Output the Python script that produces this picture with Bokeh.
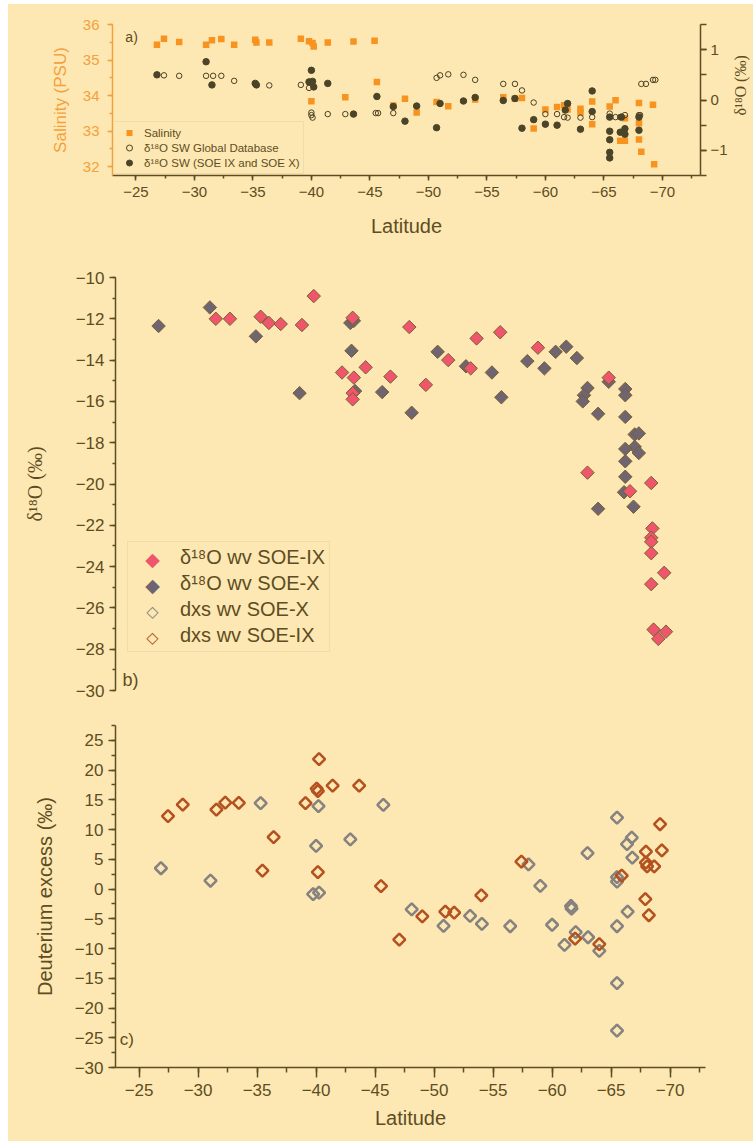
import numpy as np
from bokeh.plotting import figure
from bokeh.models import (Range1d, LinearAxis, SingleIntervalTicker, Legend, LegendItem,
                          Label, ColumnDataSource)
from bokeh.layouts import column, row
from bokeh.embed import file_html
from bokeh.resources import INLINE

# ---------------- data ----------------
# Panel a: salinity (PSU)
sal_lat = [-26.8, -27.4, -28.7, -31.0, -31.5, -32.3, -33.4, -35.2, -35.3, -36.4, -39.1, -39.8,
           -40.1, -40.2, -40.0, -41.4, -43.6, -45.4, -45.6, -42.9, -47.0, -48.0, -49.0, -50.7,
           -51.7, -54.0, -56.4, -57.4, -58.0, -59.0, -60.0, -61.0, -61.6, -61.9, -63.0, -63.0,
           -64.0, -64.0, -65.5, -66.0, -66.4, -66.8, -66.8, -68.0, -68.0, -68.0, -68.2, -69.2, -69.3]
sal_val = [35.43, 35.60, 35.51, 35.43, 35.56, 35.59, 35.43, 35.57, 35.49, 35.49, 35.60, 35.53,
           35.48, 35.38, 33.84, 35.49, 35.52, 35.54, 34.38, 33.95, 33.72, 33.91, 33.52, 33.82,
           33.70, 33.89, 33.95, 33.91, 33.93, 33.07, 33.61, 33.68, 33.73, 33.61, 33.63, 33.52,
           33.83, 33.19, 33.69, 33.87, 32.73, 32.73, 33.36, 33.79, 33.22, 32.76, 32.42, 33.74, 32.07]

# Panel a: d18O seawater, global database
gdb_lat = [-27.4, -28.7, -31.0, -31.6, -32.3, -33.4, -36.4, -39.1, -39.8, -40.0, -40.0, -40.1,
           -41.4, -42.9, -45.5, -45.7, -47.0, -50.7, -51.0, -51.7, -53.0, -54.0, -56.4, -57.4,
           -58.0, -59.0, -60.0, -61.0, -61.6, -61.9, -63.0, -64.0, -65.5, -66.0, -66.4, -66.8,
           -68.0, -68.1, -68.2, -68.6, -69.2, -69.4]
gdb_d18o = [0.49, 0.48, 0.48, 0.48, 0.48, 0.38, 0.29, 0.30, 0.24, -0.25, -0.30, -0.35,
            -0.28, -0.28, -0.26, -0.26, -0.26, 0.44, 0.49, 0.51, 0.50, 0.40, 0.32, 0.32,
            0.19, -0.05, -0.28, -0.28, -0.34, -0.35, -0.35, -0.34, -0.27, -0.34, -0.34, -0.30,
            -0.30, -0.30, 0.32, 0.32, 0.40, 0.40]

# Panel a: d18O seawater, SOE IX and SOE X
soe_lat = [-26.8, -31.0, -31.5, -35.2, -35.3, -39.8, -40.0, -40.1, -40.2, -41.4, -43.6, -45.6,
           -47.0, -48.0, -49.0, -50.7, -51.0, -53.0, -54.0, -56.4, -57.4, -58.0, -59.0, -60.0,
           -61.0, -61.7, -61.9, -63.0, -64.0, -64.0, -65.5, -65.5, -65.5, -65.5, -65.5, -66.4,
           -66.5, -66.8, -66.8, -68.0, -68.0]
soe_d18o = [0.50, 0.76, 0.30, 0.33, 0.30, 0.36, 0.59, 0.37, 0.26, 0.33, -0.28, 0.07,
            -0.13, -0.42, -0.12, -0.55, -0.07, -0.02, 0.05, -0.01, 0.03, -0.56, -0.39, -0.48,
            -0.50, -0.20, -0.07, -0.58, 0.18, -0.23, -0.34, -0.62, -0.79, -1.04, -1.15, -0.64,
            -0.34, -0.57, -0.68, -0.60, -0.34]

# Panel b: d18O water vapour
wv9_lat = [-31.5, -32.7, -35.3, -36.0, -37.0, -38.8, -39.8, -43.1, -42.2, -43.2, -43.1, -43.1,
           -44.2, -46.3, -47.9, -49.3, -51.2, -53.1, -53.6, -55.6, -58.8, -64.8, -63.0, -66.6,
           -68.4, -68.5, -68.4, -68.4, -68.4, -69.5, -68.4, -68.6, -69.65, -69.0]
wv9_d18o = [-12.0, -12.0, -11.9, -12.2, -12.25, -12.3, -10.9, -11.95, -14.6, -14.85, -15.6, -15.9,
            -14.35, -14.8, -12.4, -15.2, -14.0, -14.4, -12.95, -12.65, -13.4, -14.85, -19.45, -20.35,
            -19.95, -22.15, -22.6, -22.8, -23.35, -24.3, -24.85, -27.05, -27.15, -27.5]

wv10_lat = [-26.65, -31.0, -34.9, -38.6, -42.9, -43.2, -43.0, -43.3, -45.6, -48.1, -50.3, -52.7,
            -54.9, -55.7, -57.9, -59.35, -60.3, -61.2, -62.1, -63.0, -62.7, -62.6, -63.9, -64.8,
            -66.2, -66.2, -66.2, -67.0, -67.35, -67.0, -67.35, -66.2, -66.2, -66.2, -66.1, -63.9, -66.9]
wv10_d18o = [-12.35, -11.45, -12.85, -15.6, -12.2, -12.1, -13.55, -15.5, -15.55, -16.55, -13.6, -14.3,
             -14.6, -15.8, -14.05, -14.4, -13.6, -13.35, -13.9, -15.35, -15.7, -16.0, -16.6, -15.05,
             -15.4, -15.7, -16.75, -17.6, -17.55, -18.2, -18.5, -18.3, -18.9, -19.65, -20.4, -21.2, -21.1]

# Panel c: deuterium excess of water vapour
dxs10_lat = [-26.85, -31.05, -35.3, -40.2, -40.0, -39.75, -40.25, -42.9, -45.7, -65.5, -66.75,
             -66.35, -66.8, -63.0, -58.0, -59.0, -65.5, -65.5, -66.4, -48.1, -53.05, -61.6, -61.65,
             -50.8, -54.05, -56.45, -60.0, -61.05, -62.0, -63.05, -64.0, -65.5, -65.5, -65.5]
dxs10_val = [3.5, 1.4, 14.45, 13.95, 7.25, -0.85, -0.6, 8.35, 14.15, 12.0, 8.65,
             7.55, 5.3, 6.05, 4.15, 0.55, 2.0, 1.25, -3.8, -3.4, -4.5, -2.85, -3.3,
             -6.2, -5.85, -6.25, -6.0, -9.4, -7.25, -8.1, -10.4, -6.25, -15.8, -23.8]

dxs9_lat = [-27.45, -28.7, -31.55, -32.3, -33.45, -35.45, -36.4, -39.1, -40.25, -40.05, -40.15,
            -40.15, -41.4, -43.65, -45.5, -69.15, -69.3, -67.95, -67.95, -68.05, -68.65, -65.9,
            -57.4, -54.0, -49.0, -50.95, -51.7, -47.05, -61.95, -64.0, -67.9, -68.2]
dxs9_val = [12.25, 14.2, 13.35, 14.55, 14.5, 3.1, 8.75, 14.45, 21.85, 16.9, 16.45,
            2.85, 17.4, 17.4, 0.5, 10.9, 6.5, 6.3, 4.45, 3.8, 3.8, 2.25,
            4.6, -1.05, -4.6, -3.8, -3.95, -8.5, -8.35, -9.25, -1.7, -4.4]

# ---------------- style ----------------
BG = "#FDE8B3"
DARK = "#5E4D22"
ORANGE = "#F7931E"
ORANGE_AX = "#F5A03C"
PINK = "#F0566B"
GRAYF = "#6E6570"
DGRAY = "#86827F"
RUST = "#B4511F"
EDGE = "#7A5F33"
FONT = "Liberation Sans"
SERIF = "Liberation Serif"
W = 745


def style_axis(ax, color=DARK, tick_size="16px", label_size="20px", label_font=FONT,
               tick_out=6, minor_out=3, label_standoff=5, axis_standoff=10):
    ax.axis_line_color = color
    ax.axis_line_width = 1.5
    ax.major_tick_line_color = color
    ax.minor_tick_line_color = color
    ax.major_tick_line_width = 1.5
    ax.minor_tick_line_width = 1.5
    ax.major_tick_in = 0
    ax.minor_tick_in = 0
    ax.major_tick_out = tick_out
    ax.minor_tick_out = minor_out
    ax.major_label_text_color = color
    ax.major_label_text_font = FONT
    ax.major_label_text_font_size = tick_size
    ax.major_label_standoff = label_standoff
    ax.axis_label_text_color = color
    ax.axis_label_text_font = label_font
    ax.axis_label_text_font_size = label_size
    ax.axis_label_text_font_style = "normal"
    ax.axis_label_standoff = axis_standoff


def base_fig(width, height, xr, yr, left, right, top, bottom):
    p = figure(width=width, height=height, x_range=xr, y_range=yr, output_backend="svg",
               toolbar_location=None, min_border_left=left, min_border_right=right,
               min_border_top=top, min_border_bottom=bottom, background_fill_color=BG,
               border_fill_color=BG, outline_line_color=None)
    p.grid.visible = False
    return p


# ---------------- panel a ----------------
SIDE_W = 22
pa = base_fig(W - SIDE_W, 237, Range1d(-23, -73.26), Range1d(31.75, 36), 104, 31, 20, 66)
pa.extra_y_ranges = {"d18o": Range1d(-1.5, 1.5)}

pa.xaxis.ticker = SingleIntervalTicker(interval=5, num_minor_ticks=2)
pa.xaxis.axis_label = "Latitude"
style_axis(pa.xaxis[0], tick_size="15px", tick_out=5, minor_out=3, label_standoff=6, axis_standoff=15)

pa.yaxis.ticker = SingleIntervalTicker(interval=1, num_minor_ticks=2)
pa.yaxis.axis_label = "Salinity (PSU)"
style_axis(pa.yaxis[0], color=ORANGE_AX, tick_size="15px", label_size="17px",
           tick_out=5, minor_out=3, label_standoff=8, axis_standoff=10)

ax_r = LinearAxis(y_range_name="d18o",
                  ticker=SingleIntervalTicker(interval=1, num_minor_ticks=2))
style_axis(ax_r, tick_size="15px", tick_out=6, minor_out=6, label_standoff=4)
pa.add_layout(ax_r, "right")

r_sal = pa.scatter(sal_lat, sal_val, marker="square", size=6.5, fill_color=ORANGE,
                   line_color=None)
r_gdb = pa.scatter(gdb_lat, gdb_d18o, y_range_name="d18o", marker="circle", size=5.5,
                   fill_color=None, line_color="#4B4222", line_width=1)
r_soe = pa.scatter(soe_lat, soe_d18o, y_range_name="d18o", marker="circle", size=6.5,
                   fill_color="#4B4426", line_color="#4B4426")

leg_a = Legend(items=[LegendItem(label="Salinity", renderers=[r_sal]),
                      LegendItem(label="δ¹⁸O SW Global Database", renderers=[r_gdb]),
                      LegendItem(label="δ¹⁸O SW (SOE IX and SOE X)", renderers=[r_soe])],
               location="bottom_left", margin=1, padding=3, spacing=0,
               glyph_width=24, glyph_height=15, label_height=15, label_standoff=3,
               label_text_font=FONT, label_text_font_size="11.5px", label_text_color=DARK,
               background_fill_color=BG, background_fill_alpha=1.0,
               border_line_color="#E3D09E", border_line_width=1.5)
pa.add_layout(leg_a)
pa.add_layout(Label(x=-24.1, y=35.66, text="a)", text_font=FONT, text_font_size="14px",
                    text_color=DARK, text_baseline="middle", text_align="left"))

# strip to the right of panel a that carries the right-axis title (reads upwards)
pside = figure(width=SIDE_W, height=237, x_range=Range1d(0, 1), y_range=Range1d(0, 1),
               x_axis_type=None, y_axis_type=None, output_backend="svg", toolbar_location=None,
               min_border=0, background_fill_color=BG, border_fill_color=BG,
               outline_line_color=None)
pside.grid.visible = False
pside.add_layout(Label(x=0.41, y=0.597, text="δ¹⁸O (‰)", angle=np.pi / 2, text_font=SERIF,
                       text_font_size="16px", text_color=DARK, text_align="center",
                       text_baseline="middle"))

# ---------------- panel b ----------------
YB = Range1d(-30, -10)
XB = Range1d(-23, -73)
pb = base_fig(W, 464, XB, YB, 107, 48, 36, 15)
pb.xaxis.visible = False
pb.yaxis.ticker = SingleIntervalTicker(interval=2, num_minor_ticks=2)
pb.yaxis.axis_label = "δ¹⁸O (‰)"
style_axis(pb.yaxis[0], tick_size="17px", label_size="20px", label_font=SERIF,
           tick_out=6, minor_out=3, label_standoff=5, axis_standoff=27)

r_wv10 = pb.scatter(wv10_lat, wv10_d18o, marker="square", angle=np.pi / 4, size=9.5,
                    fill_color=GRAYF, line_color=EDGE, line_width=1)
r_wv9 = pb.scatter(wv9_lat, wv9_d18o, marker="square", angle=np.pi / 4, size=9.5,
                   fill_color=PINK, line_color=EDGE, line_width=1)
# legend-only placeholder renderer (its key symbols are drawn as diamond characters)
nodata = ColumnDataSource(data=dict(x=[np.nan], y=[np.nan]))
d_leg = pb.scatter("x", "y", source=nodata, marker="square", size=1,
                   fill_alpha=0, line_alpha=0)

LEG_X, LEG_Y, PAD, GW, GH, SP = 12, 38, 4, 42, 23, 3
leg_labels = ["δ¹⁸O wv SOE-IX", "δ¹⁸O wv SOE-X", "dxs wv SOE-X", "dxs wv SOE-IX"]
leg_b = Legend(items=[LegendItem(label=t, renderers=[d_leg]) for t in leg_labels],
               location=(LEG_X, LEG_Y), margin=0, padding=PAD, spacing=SP,
               glyph_width=GW, glyph_height=GH, label_height=GH, label_standoff=6,
               label_text_font=FONT, label_text_font_size="20px", label_text_color=DARK,
               background_fill_alpha=0.0,
               border_line_color="#E3D09E", border_line_width=1.5)
pb.add_layout(leg_b)
# legend key symbols, positioned on the legend rows (pixel geometry -> data units)
FRAME_W, FRAME_H = W - 107 - 48, 464 - 36 - 15
px_x = (XB.start - XB.end) / FRAME_W
px_y = (YB.end - YB.start) / FRAME_H
leg_sym = [("◆", PINK, "19px", "normal"), ("◆", GRAYF, "19px", "normal"),
           ("◇", DGRAY, "16px", "bold"), ("◇", RUST, "16px", "bold")]
top = LEG_Y + 2 * PAD + 4 * GH + 3 * SP
for i, (sym, col, fs, st) in enumerate(leg_sym):
    sy = top - PAD - GH / 2 - i * (GH + SP)
    pb.add_layout(Label(x=XB.start - (LEG_X + PAD + GW / 2) * px_x, y=YB.start + sy * px_y,
                        text=sym, text_font="DejaVu Sans", text_font_size=fs,
                        text_font_style=st, text_color=col,
                        text_align="center", text_baseline="middle"))
pb.add_layout(Label(x=-23.6, y=-29.5, text="b)", text_font=FONT, text_font_size="18px",
                    text_color=DARK, text_baseline="middle", text_align="left"))

# ---------------- panel c ----------------
pc = base_fig(W, 436, Range1d(-23, -73), Range1d(-30, 27.5), 107, 48, 20, 74)
pc.xaxis.ticker = SingleIntervalTicker(interval=5, num_minor_ticks=2)
pc.xaxis.axis_label = "Latitude"
style_axis(pc.xaxis[0], tick_size="17px", tick_out=10, minor_out=5, label_standoff=6,
           axis_standoff=8)
pc.yaxis.ticker = SingleIntervalTicker(interval=5, num_minor_ticks=2)
pc.yaxis.axis_label = "Deuterium excess (‰)"
style_axis(pc.yaxis[0], tick_size="17px", label_size="20px", tick_out=7, minor_out=4,
           label_standoff=5, axis_standoff=16)

pc.scatter(dxs10_lat, dxs10_val, marker="square", angle=np.pi / 4, size=8.5,
           fill_color=None, line_color=DGRAY, line_width=2.5)
pc.scatter(dxs9_lat, dxs9_val, marker="square", angle=np.pi / 4, size=8.5,
           fill_color=None, line_color=RUST, line_width=2.5)
pc.add_layout(Label(x=-23.35, y=-25.3, text="c)", text_font=FONT, text_font_size="17px",
                    text_color=DARK, text_baseline="middle", text_align="left"))

top_row = row(pa, pside, spacing=0, styles={"background-color": BG})
layout = column(top_row, pb, pc, spacing=0, margin=(4, 0, 0, 8),
                styles={"background-color": BG})
open("out.html", "w").write(file_html(layout, INLINE))
